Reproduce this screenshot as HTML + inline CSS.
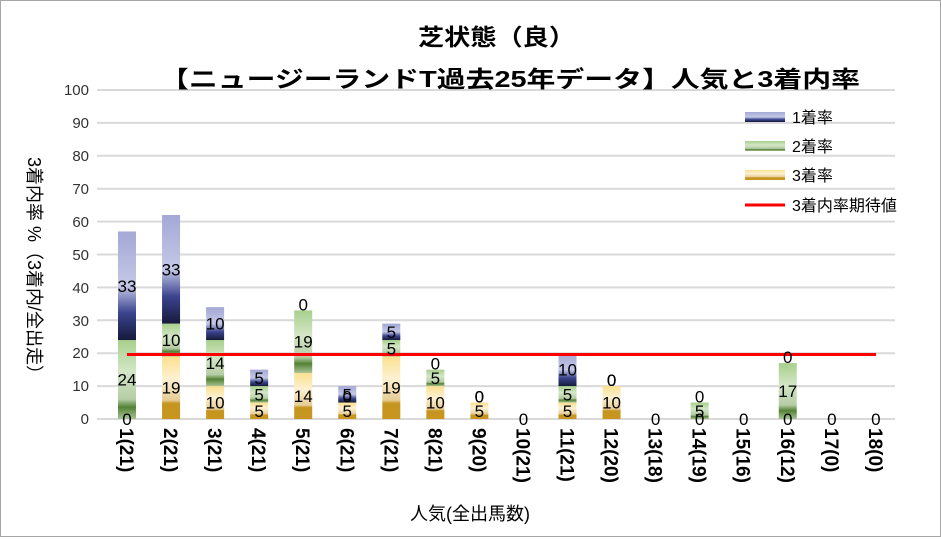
<!DOCTYPE html>
<html><head><meta charset="utf-8"><style>
body{margin:0;background:#fff}
text{font-family:"Liberation Sans","Noto Sans CJK JP",sans-serif}
</style></head><body>
<svg width="941" height="537" viewBox="0 0 941 537" xmlns="http://www.w3.org/2000/svg">
<defs>
<linearGradient id="b" x1="0" y1="0" x2="0" y2="1"><stop offset="0" stop-color="#a3a8d6"/><stop offset="0.5" stop-color="#c4c8e6"/><stop offset="0.75" stop-color="#3b448f"/><stop offset="1" stop-color="#161a3a"/></linearGradient>
<linearGradient id="g" x1="0" y1="0" x2="0" y2="1"><stop offset="0" stop-color="#a8d08d"/><stop offset="0.4" stop-color="#d3e6c6"/><stop offset="0.75" stop-color="#b5cda5"/><stop offset="0.85" stop-color="#548235"/><stop offset="1" stop-color="#a9c294"/></linearGradient>
<linearGradient id="y" x1="0" y1="0" x2="0" y2="1"><stop offset="0" stop-color="#fbe08f"/><stop offset="0.35" stop-color="#fdf1d2"/><stop offset="0.7" stop-color="#e6cc94"/><stop offset="0.75" stop-color="#c69520"/><stop offset="1" stop-color="#c8961e"/></linearGradient>
</defs>
<rect x="0.5" y="0.5" width="940" height="536" fill="#fff" stroke="#a6a6a6"/>
<g stroke="#d9d9d9" stroke-width="2">
<line x1="97" x2="895" y1="90" y2="90"/><line x1="97" x2="895" y1="122.9" y2="122.9"/><line x1="97" x2="895" y1="155.8" y2="155.8"/><line x1="97" x2="895" y1="188.7" y2="188.7"/><line x1="97" x2="895" y1="221.6" y2="221.6"/><line x1="97" x2="895" y1="254.5" y2="254.5"/><line x1="97" x2="895" y1="287.4" y2="287.4"/><line x1="97" x2="895" y1="320.3" y2="320.3"/><line x1="97" x2="895" y1="353.2" y2="353.2"/><line x1="97" x2="895" y1="386.1" y2="386.1"/><line x1="97" x2="895" y1="419" y2="419"/>
</g>
<text x="418" y="45" font-size="23" font-weight="bold" textLength="157" lengthAdjust="spacingAndGlyphs">芝状態（良）</text>
<text x="160" y="87" font-size="23" font-weight="bold" textLength="700" lengthAdjust="spacingAndGlyphs">【ニュージーランドT過去25年データ】人気と3着内率</text>
<g font-size="15" text-anchor="end" fill="#333">
<text x="89" y="95">100</text><text x="89" y="128">90</text><text x="89" y="161">80</text><text x="89" y="194">70</text><text x="89" y="227">60</text><text x="89" y="260">50</text><text x="89" y="293">40</text><text x="89" y="326">30</text><text x="89" y="358">20</text><text x="89" y="391">10</text><text x="89" y="424">0</text>
</g>
<g id="bars"></g>
<line x1="127" x2="876" y1="354.5" y2="354.5" stroke="#ff0000" stroke-width="3"/>
<g id="lbl" font-size="17" text-anchor="middle"></g>
<g id="xl" font-size="19" font-weight="bold"></g>
<text transform="translate(28,270) rotate(90)" font-size="18" text-anchor="middle">3着内率 %（3着内/全出走）</text>
<text x="470" y="520" font-size="18" text-anchor="middle">人気(全出馬数)</text>
<g font-size="16">
<rect x="745" y="112" width="40" height="10" fill="url(#b)"/><text x="792" y="123">1着率</text>
<rect x="745" y="141" width="40" height="10" fill="url(#g)"/><text x="792" y="152">2着率</text>
<rect x="745" y="170" width="40" height="10" fill="url(#y)"/><text x="792" y="181">3着率</text>
<line x1="745" x2="785" y1="205" y2="205" stroke="#ff0000" stroke-width="3"/><text x="792" y="211">3着内率期待値</text>
</g>
</svg>
<script>
var d=[[0,24,33],[19,10,33],[10,14,10],[5,5,5],[14,19,0],[5,0,5],[19,5,5],[10,5,0],[5,0,0],[0,0,0],[5,5,10],[10,0,0],[0,0,0],[0,5,0],[0,0,0],[0,17,0],[0,0,0],[0,0,0]];
var n=["1(21)","2(21)","3(21)","4(21)","5(21)","6(21)","7(21)","8(21)","9(20)","10(21)","11(21)","12(20)","13(18)","14(19)","15(16)","16(12)","17(0)","18(0)"];
var s=3.29,bars="",lb="",xl="",f=["url(#y)","url(#g)","url(#b)"];
d.forEach(function(v,i){var cx=127+i*44.05,y=419;var tot=v[0]+v[1]+v[2];
for(var k=0;k<3;k++){var h=v[k]*s;if(h>0){bars+='<rect x="'+(cx-9)+'" y="'+(y-h)+'" width="18" height="'+h+'" fill="'+f[k]+'"/>';}
if(tot==0){if(k==0)lb+='<text x="'+cx+'" y="'+(y+6)+'">0</text>';}
else lb+='<text x="'+cx+'" y="'+(y-h/2+6-(h==0&&k>0?6:0))+'">'+v[k]+'</text>';y-=h;}
xl+='<text transform="translate('+(cx-7)+',428) rotate(90)">'+n[i]+'</text>';});
document.getElementById("bars").innerHTML=bars;document.getElementById("lbl").innerHTML=lb;document.getElementById("xl").innerHTML=xl;
</script>
</body></html>
